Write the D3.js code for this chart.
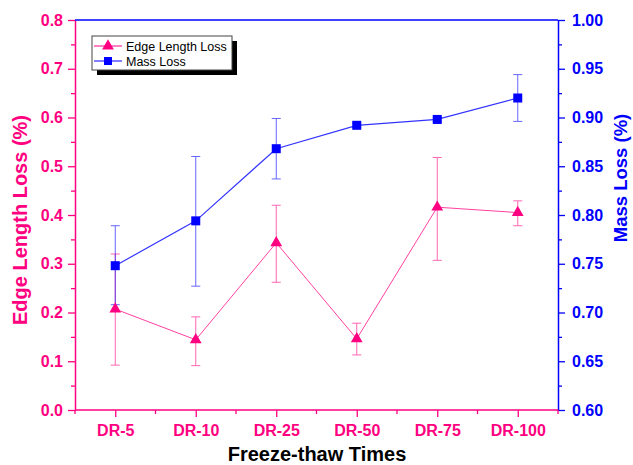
<!DOCTYPE html>
<html><head><meta charset="utf-8">
<script src="https://cdn.jsdelivr.net/npm/d3@7"></script>
<style>body{margin:0;background:#fff}svg{display:block}text{font-family:"Liberation Sans",Arial,sans-serif;font-weight:bold}</style>
</head><body>
<svg id="c" width="633" height="465"></svg>
<script>
const categories = ["DR-5","DR-10","DR-25","DR-50","DR-75","DR-100"];
const edgeLoss   = [0.207, 0.144, 0.343, 0.146, 0.416, 0.405];
const edgeUpper  = [0.320, 0.191, 0.420, 0.178, 0.518, 0.429];
const edgeLower  = [0.092, 0.091, 0.262, 0.113, 0.307, 0.378];
const massLoss   = [0.748, 0.794, 0.868, 0.892, 0.898, 0.920];
const massUpper  = [0.789, 0.860, 0.899, 0.894, 0.900, 0.944];
const massLower  = [0.708, 0.727, 0.837, 0.890, 0.896, 0.896];
const leftTicks  = [0,0.1,0.2,0.3,0.4,0.5,0.6,0.7,0.8];
const rightTicks = [0.60,0.65,0.70,0.75,0.80,0.85,0.90,0.95,1.00];

const PINK="#ff0080", BLUE="#0000ff";
const L=75, R=558, T=20, B=410;
const svg=d3.select("#c");
const x=d3.scalePoint().domain(categories).range([L,R]).padding(0.5);
const yL=d3.scaleLinear().domain([0,0.8]).range([B,T]);
const yR=d3.scaleLinear().domain([0.6,1.0]).range([B,T]);

const step=x.step();
const g=svg.append("g");
// left axis
const la=g.append("g").attr("transform",`translate(${L},0)`).call(d3.axisLeft(yL).tickValues(leftTicks).tickFormat(d3.format(".1f")).tickSize(7).tickSizeOuter(0));
la.selectAll("text").attr("font-size",16).attr("fill",PINK).attr("x",-12);
la.selectAll("line").attr("stroke",PINK).attr("stroke-width",1.3);
la.select(".domain").attr("stroke",PINK).attr("stroke-width",1.5);
const lminor=d3.range(0.05,0.8,0.1);
g.append("g").attr("transform",`translate(${L},0)`).call(d3.axisLeft(yL).tickValues(lminor).tickFormat("").tickSize(4).tickSizeOuter(0))
 .call(s=>{s.select(".domain").remove();s.selectAll("line").attr("stroke",PINK).attr("stroke-width",1.3);});

// right axis
const ra=g.append("g").attr("transform",`translate(${R},0)`).call(d3.axisRight(yR).tickValues(rightTicks).tickFormat(d3.format(".2f")).tickSize(7).tickSizeOuter(0));
ra.selectAll("text").attr("font-size",16).attr("fill",BLUE).attr("x",14);
ra.selectAll("line").attr("stroke",BLUE).attr("stroke-width",1.3);
ra.select(".domain").attr("stroke",BLUE).attr("stroke-width",1.5);
const rminor=d3.range(0.625,1.0,0.05);
g.append("g").attr("transform",`translate(${R},0)`).call(d3.axisRight(yR).tickValues(rminor).tickFormat("").tickSize(4).tickSizeOuter(0))
 .call(s=>{s.select(".domain").remove();s.selectAll("line").attr("stroke",BLUE).attr("stroke-width",1.3);});

// top line
g.append("line").attr("x1",L).attr("x2",R).attr("y1",T).attr("y2",T).attr("stroke",BLUE).attr("stroke-width",1.5);

// bottom axis
const ba=g.append("g").attr("transform",`translate(0,${B})`).call(d3.axisBottom(x).tickSize(7).tickSizeOuter(0));
ba.selectAll("text").attr("font-size",16).attr("fill",PINK).attr("y",26).attr("dy",0);
ba.selectAll("line").attr("stroke",PINK).attr("stroke-width",1.3);
ba.select(".domain").attr("stroke",PINK).attr("stroke-width",1.5).attr("d",`M${L},0H${R}`);
const bminor=d3.range(0,categories.length+1).map(i=>L+i*step);
g.append("g").selectAll("line").data(bminor).join("line")
 .attr("x1",d=>d).attr("x2",d=>d).attr("y1",B).attr("y2",B+4).attr("stroke",PINK).attr("stroke-width",1.3);

// titles
svg.append("text").attr("x",317).attr("y",461).attr("text-anchor","middle").attr("font-size",20).attr("fill","#000").text("Freeze-thaw Times");
svg.append("text").attr("transform",`translate(27,220) rotate(-90)`).attr("text-anchor","middle").attr("font-size",20).attr("fill",PINK).text("Edge Length Loss (%)");
svg.append("text").attr("transform",`translate(627,178) rotate(-90)`).attr("text-anchor","middle").attr("font-size",18.5).attr("fill",BLUE).text("Mass Loss (%)");

// error bars
function errbars(lo,hi,y,col){
  const eg=svg.append("g").attr("stroke",col).attr("stroke-width",1).attr("opacity",0.6);
  categories.forEach((c,i)=>{
    const cx=x(c);
    eg.append("line").attr("x1",cx).attr("x2",cx).attr("y1",y(lo[i])).attr("y2",y(hi[i]));
    eg.append("line").attr("x1",cx-4.5).attr("x2",cx+4.5).attr("y1",y(lo[i])).attr("y2",y(lo[i]));
    eg.append("line").attr("x1",cx-4.5).attr("x2",cx+4.5).attr("y1",y(hi[i])).attr("y2",y(hi[i]));
  });
}
errbars(edgeLower,edgeUpper,yL,PINK);
errbars(massLower,massUpper,yR,BLUE);

// lines
const idx=d3.range(categories.length);
svg.append("path").attr("d",d3.line().x(i=>x(categories[i])).y(i=>yL(edgeLoss[i]))(idx)).attr("fill","none").attr("stroke",PINK).attr("stroke-width",1).attr("opacity",0.75);
svg.append("path").attr("d",d3.line().x(i=>x(categories[i])).y(i=>yR(massLoss[i]))(idx)).attr("fill","none").attr("stroke",BLUE).attr("stroke-width",1.2).attr("opacity",0.8);

const tri=d3.symbol().type(d3.symbolTriangle).size(60);
svg.append("g").selectAll("path").data(idx).join("path").attr("d",tri)
 .attr("transform",i=>`translate(${x(categories[i])},${yL(edgeLoss[i])})`).attr("fill",PINK);
svg.append("g").selectAll("rect").data(idx).join("rect")
 .attr("x",i=>x(categories[i])-4.5).attr("y",i=>yR(massLoss[i])-4.5).attr("width",9).attr("height",9).attr("fill",BLUE);

// legend
const lg=svg.append("g");
lg.append("rect").attr("x",97).attr("y",41).attr("width",140).attr("height",34).attr("fill","#000");
lg.append("rect").attr("x",92).attr("y",36).attr("width",140).attr("height",34).attr("fill","#fff").attr("stroke","#444").attr("stroke-width",1);
lg.append("line").attr("x1",94).attr("x2",122).attr("y1",46).attr("y2",46).attr("stroke",PINK).attr("stroke-width",1);
lg.append("path").attr("d",tri).attr("transform","translate(108,46)").attr("fill",PINK);
lg.append("line").attr("x1",94).attr("x2",122).attr("y1",61).attr("y2",61).attr("stroke",BLUE).attr("stroke-width",1);
lg.append("rect").attr("x",104).attr("y",57).attr("width",8).attr("height",8).attr("fill",BLUE);
lg.append("text").attr("x",126).attr("y",50.5).attr("font-size",12.5).style("font-weight","normal").attr("fill","#000").text("Edge Length Loss");
lg.append("text").attr("x",126).attr("y",65.5).attr("font-size",12.5).style("font-weight","normal").attr("fill","#000").text("Mass Loss");
</script>
</body></html>
